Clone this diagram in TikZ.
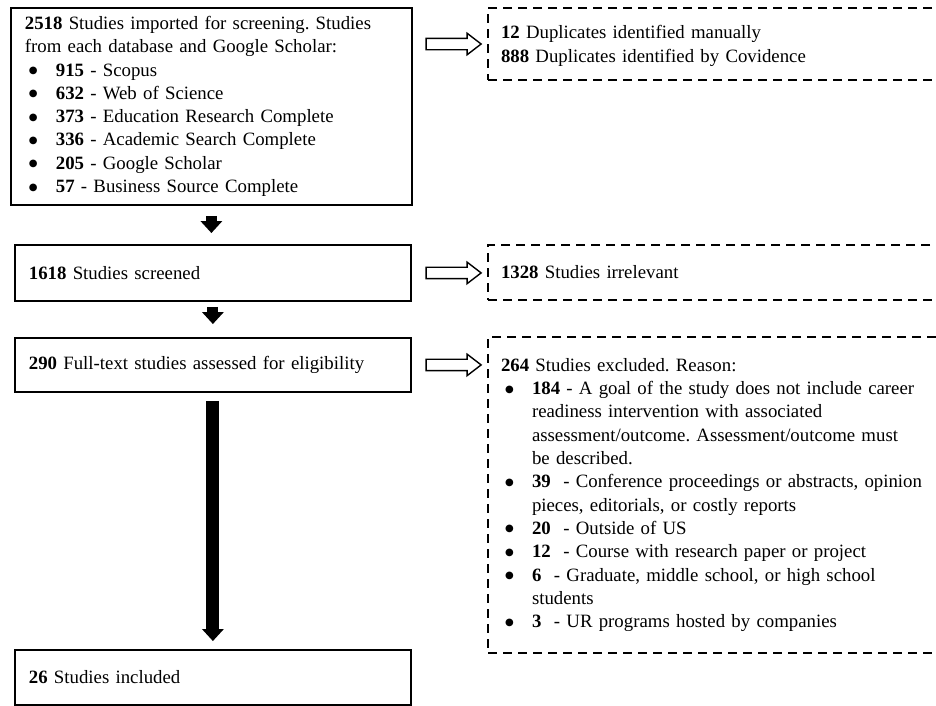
\documentclass[tikz,border=0pt]{standalone}
\usepackage{fontspec}
\setmainfont{Liberation Serif}
\newfontfamily\bulletfont{DejaVu Sans}
\usetikzlibrary{arrows.meta,positioning,shapes.arrows,calc}
\tikzset{
  stage/.style={draw=black,line width=1.8pt,align=left,anchor=north west,inner xsep=14pt,inner ysep=4pt,font=\fontsize{18.8}{23.3}\selectfont},
  note/.style={stage,dash pattern=on 9pt off 6pt,line width=2pt,inner xsep=13pt,text width=460pt},
  flow/.style={-{Triangle[width=22pt,length=12pt,line width=0pt]},line width=11pt},
  side/.style={single arrow,draw=black,line width=1.4pt,fill=white,minimum width=20pt,minimum height=55pt,single arrow head extend=5pt,single arrow tip angle=75,inner sep=5pt},
}
\newcommand{\bul}{\hspace*{4pt}\makebox[27pt][l]{\raisebox{2.5pt}{\bulletfont\fontsize{10}{10}\selectfont ●}}}
\newcommand{\contline}{\hspace*{31pt}}

\begin{document}
\frenchspacing
\begin{tikzpicture}[x=1pt,y=-1pt]
  \useasboundingbox[fill=white] (0,0) rectangle (936,705);
  % main flow
  \node[stage,text width=373pt,minimum height=197pt] (imported) at (10,7) {\textbf{2518} Studies imported for screening. Studies\\
    from each database and Google Scholar:\\
    \bul\textbf{915} - Scopus\\
    \bul\textbf{632} - Web of Science\\
    \bul\textbf{373} - Education Research Complete\\
    \bul\textbf{336} - Academic Search Complete\\
    \bul\textbf{205} - Google Scholar\\
    \bul\textbf{57} - Business Source Complete};
  \node[stage,text width=368pt,minimum height=56pt] (screened) at (14,244) {\textbf{1618} Studies screened};
  \node[stage,text width=368pt,minimum height=54pt] (fulltext) at (14,337) {\textbf{290} Full-text studies assessed for eligibility};
  \node[stage,text width=368pt,minimum height=55pt] (included) at (14,649) {\textbf{26} Studies included};
  % removed records
  \node[note,minimum height=72pt] (duplicates) at (487,7) {\rule{0pt}{17pt}\textbf{12} Duplicates identified manually\\
    \textbf{888} Duplicates identified by Covidence};
  \node[note,minimum height=55pt] (irrelevant) at (487,244) {\textbf{1328} Studies irrelevant};
  \node[note,minimum height=316pt] (excluded) at (487,336) {\textbf{264} Studies excluded. Reason:\\
    \bul\textbf{184} - A goal of the study does not include career\\
    \contline readiness intervention with associated\\
    \contline assessment/outcome. Assessment/outcome must\\
    \contline be described.\\
    \bul\textbf{39}\ \ - Conference proceedings or abstracts, opinion\\
    \contline pieces, editorials, or costly reports\\
    \bul\textbf{20}\ \ - Outside of US\\
    \bul\textbf{12}\ \ - Course with research paper or project\\
    \bul\textbf{6}\ \ - Graduate, middle school, or high school\\
    \contline students\\
    \bul\textbf{3}\ \ - UR programs hosted by companies};
  % arrows
  \draw[flow,shorten <=10pt,shorten >=11pt] (imported.south) -- (imported.south |- screened.north);
  \draw[flow,shorten <=5pt,shorten >=13pt] (screened.south) -- (fulltext.north);
  \draw[flow,line width=13pt,shorten <=8pt,shorten >=8pt] (fulltext.south) -- (included.north);
  \coordinate (gap) at ($(imported.east)!0.5!(duplicates.west)$);
  \node[side] (todup) at (gap |- duplicates.west) {};
  \node[side] (toirr) at (gap |- screened.east) {};
  \node[side] (toexc) at (gap |- fulltext.east) {};
\end{tikzpicture}
\end{document}
